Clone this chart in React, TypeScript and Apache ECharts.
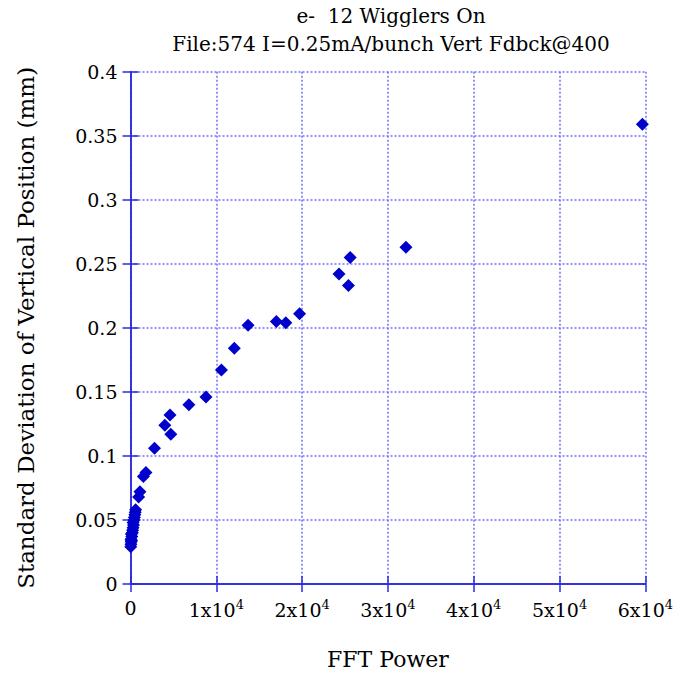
import React, { useEffect, useRef } from "react";
import * as echarts from "echarts";

const titleLines = ["e-  12 Wigglers On", "File:574 I=0.25mA/bunch Vert Fdbck@400"];
const xName = "FFT Power";
const yName = "Standard Deviation of Vertical Position (mm)";

const fftPower = [
  30, 50, 80, 60, 120, 150, 100, 220, 250, 300, 350, 300, 420, 450, 500, 550, 600,
  950, 1100, 1500, 1800, 2800, 4000, 4700, 4600, 6800, 8800, 10600, 12100, 13700,
  17000, 18100, 19700, 24300, 25400, 25600, 32100, 59650,
];
const stdDev = [
  0.029, 0.031, 0.033, 0.035, 0.034, 0.037, 0.039, 0.040, 0.042, 0.044, 0.046, 0.048,
  0.050, 0.052, 0.054, 0.056, 0.058, 0.068, 0.072, 0.084, 0.087, 0.106, 0.124, 0.117,
  0.132, 0.140, 0.146, 0.167, 0.184, 0.202, 0.205, 0.204, 0.211, 0.242, 0.233, 0.255,
  0.263, 0.359,
];

const FONT = "'DejaVu Serif', 'Liberation Serif', serif";
const AXIS_COLOR = "#2a2ae0";
const GRID_COLOR = "#7070ff";
const MARK_COLOR = "#0000cc";

export default function App() {
  const ref = useRef<HTMLDivElement>(null);
  useEffect(() => {
    if (!ref.current) return;
    const chart = echarts.init(ref.current, undefined, { renderer: "svg" });
    const data = fftPower.map((x, i) => [x, stdDev[i]]);
    const xLabel = (v: number) => (v === 0 ? "0" : `{b|${Math.round(v / 1e4)}x10}{s|4}`);
    chart.setOption({
      animation: false,
      backgroundColor: "#ffffff",
      title: {
        text: titleLines.join("\n"),
        left: 386,
        top: -3,
        textAlign: "center",
        textStyle: { fontFamily: FONT, fontSize: 20, fontWeight: "normal", color: "#000", lineHeight: 28 },
      },
      grid: { left: 130.5, right: 28, top: 71.7, bottom: 86.5, containLabel: false },
      xAxis: [
        {
          type: "value",
          min: 0,
          max: 60000,
          interval: 10000,
          name: xName,
          nameLocation: "middle",
          nameGap: 64,
          nameTextStyle: { fontFamily: FONT, fontSize: 22, color: "#000" },
          axisLine: { show: true, lineStyle: { color: AXIS_COLOR, width: 1.5 } },
          axisTick: { show: true, inside: true, length: 8, lineStyle: { color: AXIS_COLOR, width: 1.5 } },
          axisLabel: {
            margin: 14,
            formatter: xLabel,
            fontFamily: FONT,
            fontSize: 19,
            color: "#000",
            rich: {
              b: { fontFamily: FONT, fontSize: 19, color: "#000", lineHeight: 24 },
              s: { fontFamily: FONT, fontSize: 13, color: "#000", lineHeight: 13, verticalAlign: "top" },
            },
          },
          splitLine: { show: true, lineStyle: { color: GRID_COLOR, type: [2, 2], width: 1.5 } },
        },
        {
          type: "value",
          position: "top",
          min: 0,
          max: 60000,
          interval: 10000,
          axisLine: { show: true, lineStyle: { color: AXIS_COLOR, width: 1.5 } },
          axisTick: { show: true, inside: true, length: 8, lineStyle: { color: AXIS_COLOR, width: 1.5 } },
          axisLabel: { show: false },
          splitLine: { show: false },
        },
      ],
      yAxis: [
        {
          type: "value",
          min: 0,
          max: 0.4,
          interval: 0.05,
          name: yName,
          nameLocation: "middle",
          nameGap: 93,
          nameRotate: 90,
          nameTextStyle: { fontFamily: FONT, fontSize: 23, color: "#000" },
          axisLine: { show: true, lineStyle: { color: AXIS_COLOR, width: 1.5 } },
          axisTick: { show: true, inside: true, length: 8, lineStyle: { color: AXIS_COLOR, width: 1.5 } },
          axisLabel: { margin: 13, fontFamily: FONT, fontSize: 19, color: "#000" },
          splitLine: { show: true, lineStyle: { color: GRID_COLOR, type: [2, 2], width: 1.5 } },
        },
        {
          type: "value",
          position: "right",
          min: 0,
          max: 0.4,
          interval: 0.05,
          axisLine: { show: true, lineStyle: { color: AXIS_COLOR, width: 1.5 } },
          axisTick: { show: true, inside: true, length: 8, lineStyle: { color: AXIS_COLOR, width: 1.5 } },
          axisLabel: { show: false },
          splitLine: { show: false },
        },
      ],
      series: [
        {
          type: "scatter",
          xAxisIndex: 0,
          yAxisIndex: 0,
          data,
          symbol: "diamond",
          symbolSize: [13, 13],
          itemStyle: { color: MARK_COLOR, opacity: 1 },
        },
      ],
    });
    return () => chart.dispose();
  }, []);
  return (
    <div
      ref={ref}
      style={{ position: "fixed", left: 0, top: 0, width: 676, height: 675, background: "#fff" }}
    />
  );
}
